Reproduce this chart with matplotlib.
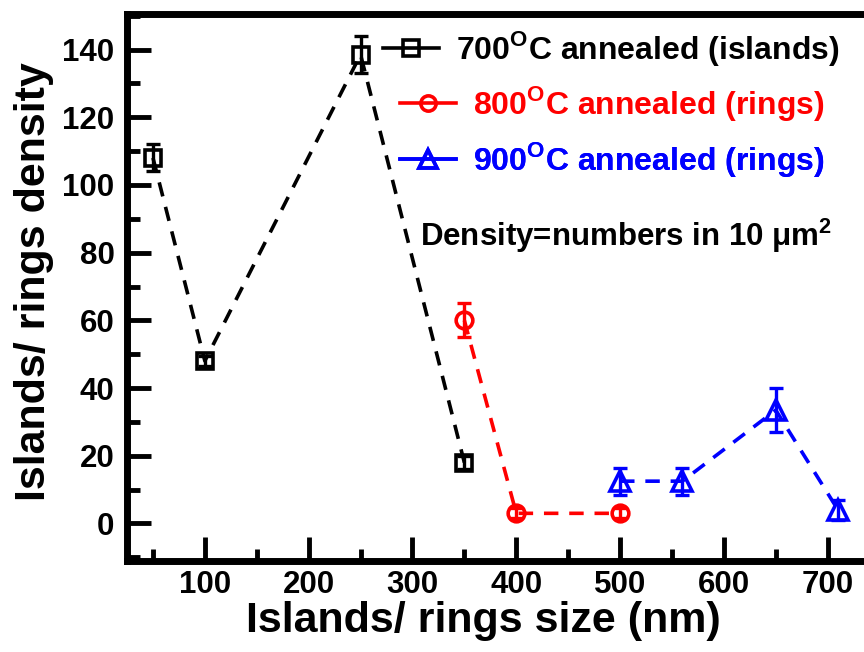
import matplotlib
matplotlib.use("Agg")
import matplotlib.pyplot as plt
from matplotlib.ticker import MultipleLocator

# ── Data ──────────────────────────────────────────────────────────────────────
size_700 = [50, 100, 250, 350]
dens_700 = [108, 48, 138.5, 18]
err_700 = [4, 1.5, 5.5, 2]

size_800 = [350, 400, 500]
dens_800 = [60, 3, 3]
err_800 = [5, 1.5, 1.5]

size_900 = [500, 560, 650, 710]
dens_900 = [12.5, 12.5, 33.5, 4]
err_900 = [4, 4, 6.5, 3]

labels = [
    r"700$^\mathregular{O}$C annealed (islands)",
    r"800$^\mathregular{O}$C annealed (rings)",
    r"900$^\mathregular{O}$C annealed (rings)",
]
colors = ["black", "red", "blue"]
markers = ["s", "o", "^"]
msizes = [12, 12, 14]

plt.rcParams["font.family"] = ["Liberation Sans", "DejaVu Sans"]
plt.rcParams["font.weight"] = "bold"
plt.rcParams["mathtext.fontset"] = "custom"
plt.rcParams["mathtext.rm"] = "Liberation Sans:bold"
plt.rcParams["mathtext.bf"] = "Liberation Sans:bold"

fig = plt.figure(figsize=(8.64, 6.52), dpi=100)
ax = fig.add_axes([0.147, 0.14, 0.853, 0.8385])

series = [
    (size_700, dens_700, err_700),
    (size_800, dens_800, err_800),
    (size_900, dens_900, err_900),
]
handles = []
for (x, y, e), c, m, ms in zip(series, colors, markers, msizes):
    ax.errorbar(x, y, yerr=e, fmt="none", ecolor=c, elinewidth=2.4,
                capsize=5, capthick=2.4, zorder=3)
    h, = ax.plot(x, y, color=c, linestyle=(0, (4, 3)), linewidth=2.6,
                 marker=m, markersize=ms, markerfacecolor="none",
                 markeredgecolor=c, markeredgewidth=2.6, zorder=4)
    handles.append(h)

# legend rows are staggered in the original, so one legend per row
leg_pos = [(0.347, 0.937), (0.370, 0.836), (0.370, 0.734)]
for h, lab, c, pos in zip(handles, labels, colors, leg_pos):
    proxy, = ax.plot([], [], color=c, linestyle="-", linewidth=2.6,
                     marker=h.get_marker(), markersize=h.get_markersize() - 1,
                     markerfacecolor="none", markeredgewidth=2.6)
    leg = ax.legend([proxy], [lab], loc="center left", bbox_to_anchor=pos,
                    frameon=False, handlelength=1.75, handletextpad=0.55,
                    borderaxespad=0, borderpad=0,
                    prop={"weight": "bold", "size": 23})
    leg.get_texts()[0].set_color(c)
    ax.add_artist(leg)

ax.text(307, 85, "Density=numbers in 10 μm$^\\mathregular{2}$", fontsize=22.5,
        fontweight="bold", ha="left", va="center")

ax.set_xlim(25, 735)
ax.set_ylim(-11, 150.5)
ax.set_xticks([100, 200, 300, 400, 500, 600, 700])
ax.xaxis.set_minor_locator(MultipleLocator(50))
ax.yaxis.set_major_locator(MultipleLocator(20))
ax.yaxis.set_minor_locator(MultipleLocator(10))

ax.tick_params(which="major", direction="in", length=17, width=3.5,
               labelsize=22.5, pad=9)
ax.tick_params(axis="x", which="major", pad=7)
ax.tick_params(which="minor", direction="in", length=9, width=3.5)
ax.tick_params(top=False, right=False, which="both")
for lab in ax.get_xticklabels() + ax.get_yticklabels():
    lab.set_fontweight("bold")

for side in ["left", "bottom", "top"]:
    ax.spines[side].set_linewidth(5)
ax.spines["right"].set_visible(False)

ax.set_xlabel("Islands/ rings size (nm)", fontsize=31, fontweight="bold")
ax.set_ylabel("Islands/ rings density", fontsize=31, fontweight="bold")
ax.xaxis.set_label_coords(0.483, -0.074)
ax.yaxis.set_label_coords(-0.099, 0.51)

fig.savefig("out.png", dpi=100)
